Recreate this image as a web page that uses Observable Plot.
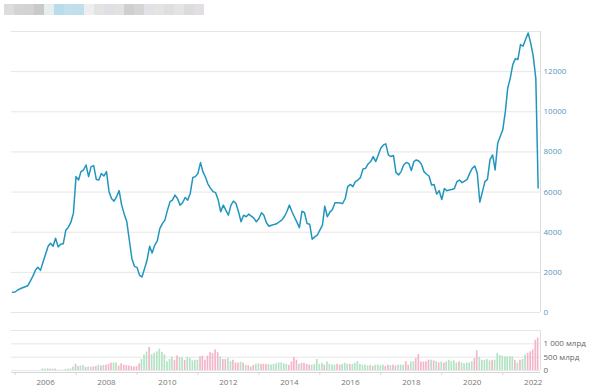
<!DOCTYPE html>
<html><head><meta charset="utf-8">
<script src="https://cdn.jsdelivr.net/npm/d3@7"></script>
<script src="https://cdn.jsdelivr.net/npm/@observablehq/plot@0.6"></script>
<style>
body{margin:0;background:#fff;font-family:"Open Sans",sans-serif;}
#wrap{position:relative;width:590px;height:387px;overflow:hidden}
#title{position:absolute;left:4px;top:4px;height:11px;display:flex}
#title span{width:10px;height:11px;display:block}
#main{position:absolute;left:0;top:0}
#vol{position:absolute;left:0;top:320px}
</style></head><body>
<div id="wrap"><div id="main"></div><div id="vol"></div><div id="title"></div></div>
<script>
// monthly series, first month = Dec 2004
const firstYear = 2004, firstMonth = 11;
const priceValues = [
1015,1020,1120,1180,1230,1280,1330,1550,1800,2100,2250,2100,
2500,2900,3300,3450,3300,3700,3270,3400,3420,4100,4250,4500,
4950,6770,6600,7020,7100,7350,6770,7270,7320,6630,6600,6930,
6800,7020,6020,5680,5550,5770,6070,5350,4900,4520,3600,2680,
2300,2250,1850,1770,2180,2600,3300,2970,3350,3570,4180,4430,
4600,5100,5520,5600,5850,5680,5350,5470,5730,5600,5930,6730,
6770,6930,7470,7020,6750,6400,6200,6020,5970,5600,5020,5350,
5100,4850,5350,5550,5430,5020,4520,4850,4770,4900,4800,4700,
4520,4680,4970,4850,4470,4300,4350,4380,4420,4520,4600,4770,
5020,5350,5020,4770,4500,4230,5050,4970,4430,4400,3650,3770,
3850,4100,4350,5300,4770,5000,5130,5470,5470,5450,5430,5680,
6270,6380,6270,6520,6600,6720,7150,7180,7400,7520,7770,7520,
7850,8200,8350,8400,7850,7770,7820,6980,6850,7020,7350,7470,
7430,7070,7520,7600,7550,7400,7020,6900,6800,6350,6380,5900,
6070,5630,6180,6070,6100,6130,6180,6520,6600,6470,6550,6630,
6930,7180,7300,6950,5500,6000,6520,6630,7620,7850,7100,8430,
8770,9100,10020,11180,11680,12350,12650,12600,13350,13270,13600,13930,
13430,12770,11650,6200
];
// monthly turnover (bn), first bar = Dec 2005 (index 12 of price series)
const volumeStartIndex = 12;
const volumeValues = [
60,50,60,50,55,50,15,10,15,40,50,60,
130,230,150,170,190,120,130,130,130,150,200,170,190,200,230,280,280,280,170,250,200,190,170,150,130,150,250,410,580,690,870,
590,640,700,800,680,580,320,410,490,385,550,475,475,385,
490,460,360,385,385,510,540,385,
540,670,640,770,670,510,410,410,460,330,385,280,280,310,280,200,180,130,190,230,250,230,230,230,220,200,230,250,280,280,250,230,190,320,490,
385,230,270,270,230,200,200,230,410,230,270,200,320,230,200,200,230,200,230,270,230,230,230,270,330,230,200,200,170,200,150,200,200,180,200,150,200,180,200,170,200,200,200,330,200,320,330,450,600,
320,320,330,385,385,360,330,280,320,280,320,385,330,360,280,320,280,250,280,280,330,450,
740,490,385,385,410,360,385,385,640,565,540,510,510,510,510,385,280,385,410,580,640,700,770,1130,1220
];
const priceTicks = [0,2000,4000,6000,8000,10000,12000];
const priceGrid = [0,2000,4000,6000,8000,10000,12000,14000];
const volumeTicks = [0,500,1000];
const volumeTickLabels = ["0","500 млрд","1 000 млрд"];
const volumeGrid = [0,500,1000,1500];
const yearTicks = [2006,2008,2010,2012,2014,2016,2018,2020,2022];
const minorYearTicks = [2005,2007,2009,2011,2013,2015,2017,2019,2021];
const titleBlocks = ["#dcdcdc","#d4d4d4","#d2d2d2","#c9c9c9","#e8eef0","#b9dcea","#bfe0ec","#c0dfeb","#eeeeee","#e3e3e3","#dfe0e3","#e2e2e2","#cfcfcf","#d5d5d5","#e2e2e6","#e4e4e4","#dfdfdf","#e4e4e4","#dcdcdc","#e2dee4"];

const monthDate = i => new Date(Date.UTC(firstYear, firstMonth + i, 1));
const priceData = priceValues.map((v, i) => ({date: monthDate(i), value: v}));
const n = priceValues.length;
const volumeData = volumeValues.map((v, j) => {
  const i = j + volumeStartIndex;
  const up = i < n - 1 ? priceValues[i + 1] >= priceValues[i] : priceValues[i] >= priceValues[i - 1];
  return {date: monthDate(i), vol: v, up};
});
const xDomain = [new Date(Date.UTC(2004, 10, 19)), new Date(Date.UTC(2022, 2, 29))];
const day = 864e5;

const main = Plot.plot({
  width: 590, height: 320,
  marginLeft: 11, marginRight: 50, marginTop: 31, marginBottom: 8,
  x: {type: "utc", domain: xDomain, axis: null},
  y: {domain: [0, 14000], axis: null},
  style: {fontFamily: "'Open Sans', sans-serif", fontSize: "8px", background: "transparent"},
  marks: [
    Plot.gridY(priceGrid, {stroke: "#e6e6e6", strokeOpacity: 1}),
    Plot.ruleX([xDomain[1]], {stroke: "#dedede"}),
    Plot.axisY(priceTicks, {anchor: "right", label: null, tickSize: 0, tickPadding: 3, tickFormat: d => String(d), fill: "#5596bc", textAnchor: "start"}),
    Plot.lineY(priceData, {x: "date", y: "value", stroke: "#2196bd", strokeWidth: 1.5})
  ]
});
document.getElementById("main").append(main);

const vol = Plot.plot({
  width: 590, height: 67,
  marginLeft: 11, marginRight: 50, marginTop: 10, marginBottom: 17,
  x: {type: "utc", domain: xDomain, axis: null},
  y: {domain: [0, 1500], axis: null},
  style: {fontFamily: "'Open Sans', sans-serif", fontSize: "8px", background: "transparent"},
  marks: [
    Plot.gridY(volumeGrid, {stroke: "#e6e6e6", strokeOpacity: 1}),
    Plot.ruleX([xDomain[1]], {stroke: "#dedede"}),
    Plot.rectY(volumeData, {
      x1: d => new Date(+d.date - 10 * day),
      x2: d => new Date(+d.date + 10 * day),
      y: "vol",
      fill: d => d.up ? "#b3e3c4" : "#f4b5cb"
    }),
    Plot.ruleY([0], {stroke: "#d6d6d6", dy: 2}),
    Plot.axisX(minorYearTicks.map(y => new Date(Date.UTC(y, 0, 1))), {label: null, tickSize: 3, dy: 2, stroke: "#d6d6d6", tickFormat: () => ""}),
    Plot.axisY(volumeTicks, {anchor: "right", label: null, tickSize: 0, tickPadding: 3, tickFormat: d => volumeTickLabels[volumeTicks.indexOf(d)], fill: "#666", textAnchor: "start"}),
    Plot.axisX(yearTicks.map(y => new Date(Date.UTC(y, 0, 1))), {label: null, tickSize: 0, tickPadding: 9, tickFormat: d => String(d.getUTCFullYear()), fill: "#777"})
  ]
});
document.getElementById("vol").append(vol);

const title = document.getElementById("title");
titleBlocks.forEach(c => { const s = document.createElement("span"); s.style.background = c; title.append(s); });
</script>
</body></html>
